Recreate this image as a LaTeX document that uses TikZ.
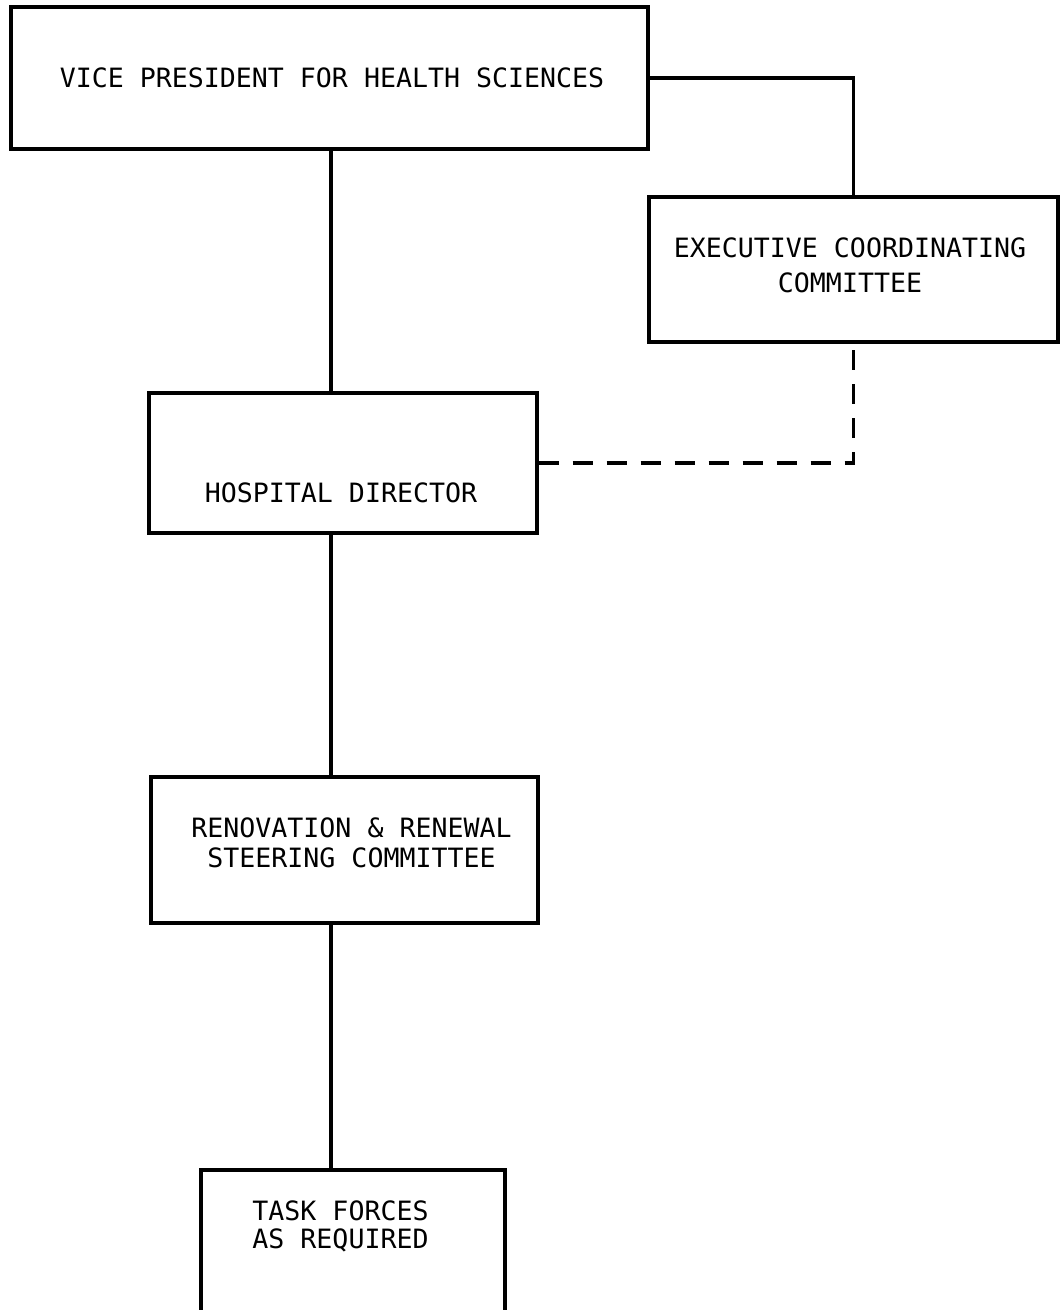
\documentclass[tikz,border=0pt]{standalone}
\usepackage{fontspec}
\newfontfamily\orgfont{DejaVu Sans Mono}
\usetikzlibrary{calc}
\tikzset{
  orgbox/.style={
    draw,
    line width=1.7pt,
    inner sep=0pt
  },
  orgtext/.style={
    font=\orgfont\fontsize{13.3}{15}\selectfont,
    align=center,
    inner sep=0pt
  },
  link/.style={line width=1.7pt},
  dashed link/.style={link, dash pattern=on 10pt off 7pt}
}

\begin{document}
\begin{tikzpicture}[x=0.5pt, y=-0.5pt]
  \useasboundingbox (0,0) rectangle (1063,1310);
  \clip (0,0) rectangle (1063,1310);
  % boxes
  \node[orgbox, minimum width=318.5pt, minimum height=71pt] (vp) at (329.5,78) {};
  \node[orgbox, minimum width=204.5pt, minimum height=72.5pt] (exec) at (853.5,269.5) {};
  \node[orgbox, minimum width=194pt, minimum height=70pt] (hd) at (343,463) {};
  \node[orgbox, minimum width=193.5pt, minimum height=73pt] (ren) at (344.5,850) {};
  \node[orgbox, minimum width=152pt, minimum height=80pt] (task) at (353,1250) {};
  % texts
  \node[orgtext] (vp-text) at (332,77.5) {VICE PRESIDENT FOR HEALTH SCIENCES};
  \node[orgtext] (exec-text) at (850,265) {EXECUTIVE COORDINATING\\[2.5pt]COMMITTEE};
  \node[orgtext] (hd-text) at (341,493) {HOSPITAL DIRECTOR};
  \node[orgtext] (ren-text) at (351.5,842.5) {RENOVATION \& RENEWAL\\STEERING COMMITTEE};
  \node[orgtext] (task-text) at (340.5,1226) {TASK FORCES\\[-1pt]AS REQUIRED};
  % connectors
  \coordinate (spine) at (331,0);
  \draw[link] (vp.south -| spine) -- (hd.north -| spine);
  \draw[link] (hd.south -| spine) -- (ren.north -| spine);
  \draw[link] (ren.south -| spine) -- (task.north -| spine);
  \draw[link] (vp.east) -| (exec.north);
  \draw[dashed link] (hd.east) -| (exec.south);
\end{tikzpicture}
\end{document}
